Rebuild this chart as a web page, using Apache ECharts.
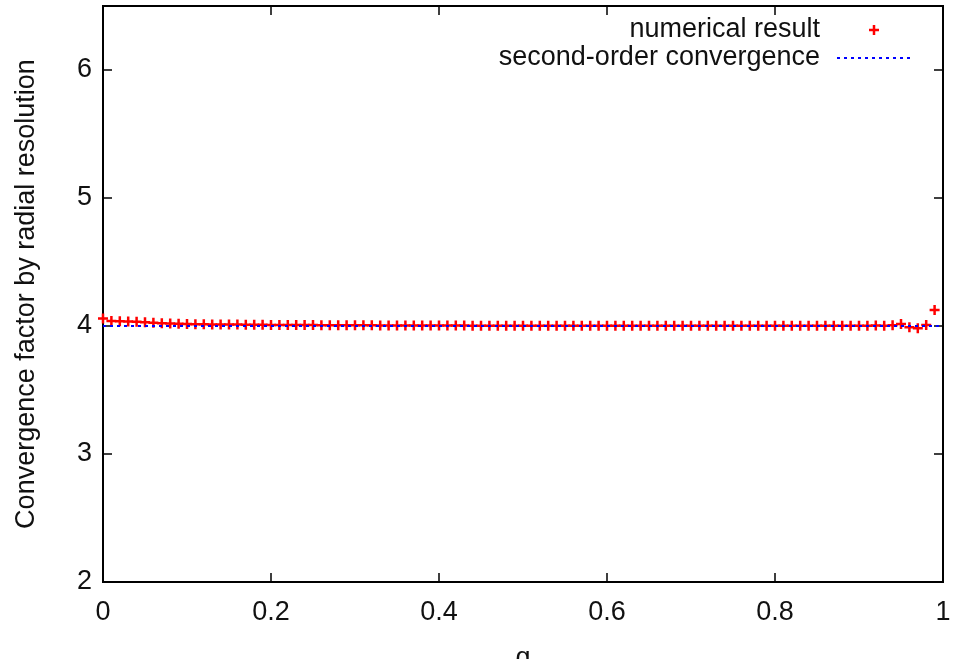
<!DOCTYPE html>
<html>
<head>
<meta charset="utf-8">
<script src="https://cdn.jsdelivr.net/npm/echarts@6/dist/echarts.min.js"></script>
<style>
  html, body { margin: 0; padding: 0; background: #fff; }
  #chart { width: 953px; height: 659px; }
</style>
</head>
<body>
<div id="chart"></div>
<script>
// Mass ratio q at which the convergence factor was measured
const qValues = [
  0.00, 0.01, 0.02, 0.03, 0.04, 0.05, 0.06, 0.07, 0.08, 0.09,
  0.10, 0.11, 0.12, 0.13, 0.14, 0.15, 0.16, 0.17, 0.18, 0.19,
  0.20, 0.21, 0.22, 0.23, 0.24, 0.25, 0.26, 0.27, 0.28, 0.29,
  0.30, 0.31, 0.32, 0.33, 0.34, 0.35, 0.36, 0.37, 0.38, 0.39,
  0.40, 0.41, 0.42, 0.43, 0.44, 0.45, 0.46, 0.47, 0.48, 0.49,
  0.50, 0.51, 0.52, 0.53, 0.54, 0.55, 0.56, 0.57, 0.58, 0.59,
  0.60, 0.61, 0.62, 0.63, 0.64, 0.65, 0.66, 0.67, 0.68, 0.69,
  0.70, 0.71, 0.72, 0.73, 0.74, 0.75, 0.76, 0.77, 0.78, 0.79,
  0.80, 0.81, 0.82, 0.83, 0.84, 0.85, 0.86, 0.87, 0.88, 0.89,
  0.90, 0.91, 0.92, 0.93, 0.94, 0.95, 0.96, 0.97, 0.98, 0.99
];

// Convergence factor obtained by doubling the radial resolution
const convergenceFactor = [
  4.058, 4.040, 4.038, 4.036, 4.033, 4.030, 4.026, 4.022, 4.019, 4.017,
  4.015, 4.014, 4.013, 4.012, 4.012, 4.011, 4.011, 4.010, 4.010, 4.009,
  4.008, 4.008, 4.008, 4.007, 4.007, 4.007, 4.006, 4.006, 4.006, 4.006,
  4.005, 4.005, 4.005, 4.004, 4.004, 4.004, 4.004, 4.004, 4.003, 4.003,
  4.003, 4.003, 4.003, 4.003, 4.002, 4.002, 4.002, 4.002, 4.002, 4.002,
  4.002, 4.002, 4.002, 4.002, 4.002, 4.002, 4.002, 4.002, 4.001, 4.001,
  4.001, 4.001, 4.001, 4.001, 4.001, 4.001, 4.001, 4.001, 4.001, 4.001,
  4.001, 4.001, 4.001, 4.001, 4.001, 4.001, 4.001, 4.001, 4.001, 4.001,
  4.001, 4.001, 4.001, 4.001, 4.001, 4.001, 4.001, 4.001, 4.001, 4.001,
  4.002, 4.001, 4.003, 4.002, 4.006, 4.015, 3.990, 3.982, 4.008, 4.125
];

// Reference line for second-order convergence (factor 2^2 = 4)
const referenceQ = [0, 1];
const referenceFactor = [4, 4];

const xTicks = [0, 0.2, 0.4, 0.6, 0.8, 1];
const yTicks = [2, 3, 4, 5, 6];

const seriesNames = ['numerical result', 'second-order convergence'];
const axisTitles = { x: 'q', y: 'Convergence factor by radial resolution' };

const FONT = '"Liberation Sans", Arial, Helvetica, sans-serif';
const TEXT_COLOR = '#111';
const PLUS = 'path://M3,0H5V3H8V5H5V8H3V5H0V3H3Z';

const chart = echarts.init(document.getElementById('chart'), null, { renderer: 'canvas' });

const xLabelFmt = v => (xTicks.some(t => Math.abs(t - v) < 1e-9) ? String(+v.toFixed(1)) : '');
const yLabelFmt = v => (yTicks.indexOf(v) >= 0 ? String(v) : '');

// ticks point into the plot on all four sides
const makeTick = () => ({ show: true, inside: true, length: 9, lineStyle: { color: '#000', width: 1.5 } });
const makeLine = () => ({ show: true, onZero: false, lineStyle: { color: '#000', width: 2 } });

chart.setOption({
  animation: false,
  backgroundColor: '#fff',
  grid: {
    left: 103, right: 10, top: 6, bottom: 77,
    containLabel: false,
    outerBoundsMode: 'none',
    show: true, borderColor: '#000', borderWidth: 2, backgroundColor: 'transparent'
  },
  legend: {
    orient: 'vertical',
    right: 41,
    top: 16,
    padding: 0,
    itemGap: 0,
    align: 'right',
    itemWidth: 74,
    itemHeight: 10,
    selectedMode: false,
    textStyle: {
      fontFamily: FONT, fontSize: 27, color: TEXT_COLOR, lineHeight: 28,
      padding: [0, 12, 0, 0]
    },
    data: [
      { name: seriesNames[0], icon: PLUS },
      { name: seriesNames[1], itemStyle: { opacity: 0 } }
    ]
  },
  xAxis: [
    {
      type: 'value', min: 0, max: 1, interval: 0.2,
      name: axisTitles.x, nameLocation: 'middle', nameGap: 63,
      nameTextStyle: { fontFamily: FONT, fontSize: 27, color: TEXT_COLOR },
      axisLine: makeLine(),
      axisTick: makeTick(),
      axisLabel: { fontFamily: FONT, fontSize: 27, color: TEXT_COLOR, margin: 17, formatter: xLabelFmt },
      splitLine: { show: false }
    },
    {
      type: 'value', min: 0, max: 1, interval: 0.2, position: 'top',
      axisLine: makeLine(),
      axisTick: makeTick(),
      axisLabel: { show: false },
      splitLine: { show: false }
    }
  ],
  yAxis: [
    {
      type: 'value', min: 2, max: 6.5, interval: 1,
      name: axisTitles.y, nameLocation: 'middle', nameGap: 63,
      nameTextStyle: { fontFamily: FONT, fontSize: 27, color: TEXT_COLOR },
      axisLine: makeLine(),
      axisTick: makeTick(),
      axisLabel: { fontFamily: FONT, fontSize: 27, color: TEXT_COLOR, margin: 11, formatter: yLabelFmt, showMaxLabel: false },
      splitLine: { show: false }
    },
    {
      type: 'value', min: 2, max: 6.5, interval: 1, position: 'right',
      axisLine: makeLine(),
      axisTick: makeTick(),
      axisLabel: { show: false },
      splitLine: { show: false }
    }
  ],
  series: [
    {
      name: seriesNames[0],
      type: 'scatter',
      xAxisIndex: 0, yAxisIndex: 0,
      symbol: PLUS,
      symbolSize: 10,
      symbolKeepAspect: true,
      clip: false,
      itemStyle: { color: '#ff0000', opacity: 1 },
      data: qValues.map((q, i) => [q, convergenceFactor[i]])
    },
    {
      name: seriesNames[1],
      type: 'line',
      xAxisIndex: 0, yAxisIndex: 0,
      showSymbol: false,
      symbol: 'none',
      itemStyle: { color: '#0000ff' },
      lineStyle: { color: '#0000ff', width: 2, type: [3, 4] },
      data: referenceQ.map((q, i) => [q, referenceFactor[i]])
    }
  ]
});
</script>
</body>
</html>
